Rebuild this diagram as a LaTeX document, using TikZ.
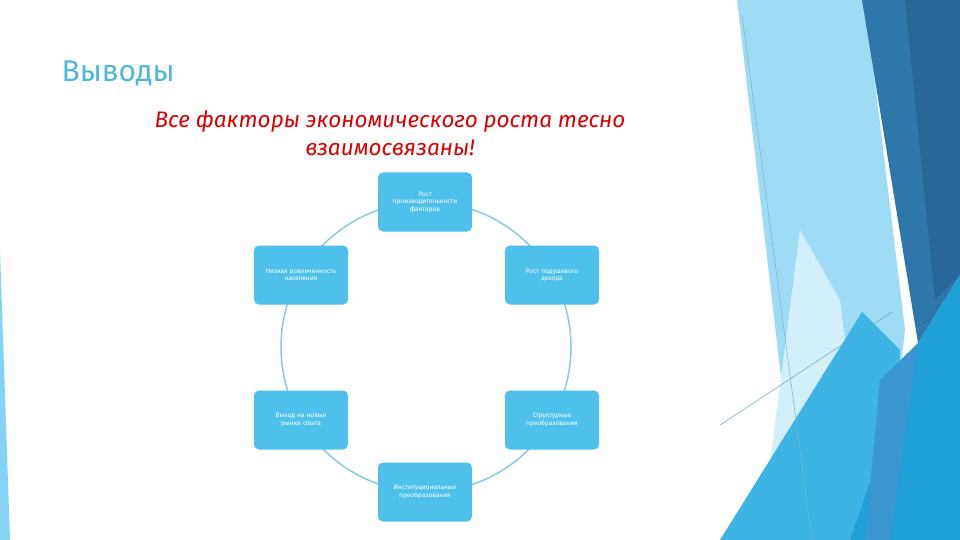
\documentclass[tikz,border=0pt]{standalone}
\usepackage{fontspec}
\setmainfont{Fira Sans}
\begin{document}
\begin{tikzpicture}[x=1pt,y=-1pt,
  box/.style={fill=boxc,rounded corners=5pt,minimum width=93pt,minimum height=59pt,align=center,text=white,font=\fontsize{6.5}{7.5}\selectfont,inner sep=2pt,text width=90pt}]
\definecolor{boxc}{HTML}{4FC0EC}
\definecolor{ring}{HTML}{8AC9E8}
\definecolor{titc}{HTML}{4FB8D8}
\definecolor{dkA}{HTML}{2E77AA}
\definecolor{dkB}{HTML}{27679A}
\definecolor{mdA}{HTML}{3DB4E4}
\definecolor{brA}{HTML}{1FA0D6}
\definecolor{mdB}{HTML}{3C96D2}
\useasboundingbox (0,0) rectangle (960,540);
\fill[white] (0,0) rectangle (960,540);
% left strip
\fill[boxc!70] (0,250) -- (10,540) -- (0,540) -- cycle;
% right decoration
\fill[boxc!55] (737,0) -- (865,0) -- (905,330) -- (880,540) -- (800,540) -- cycle;
\fill[boxc!25] (800,230) -- (840,300) -- (870,540) -- (760,540) -- cycle;
\fill[dkA] (862,0) -- (960,0) -- (960,275) -- (918,343) -- cycle;
\fill[dkB] (905,0) -- (960,0) -- (960,275) -- (935,300) -- cycle;
\fill[mdA] (720,540) -- (862,312) -- (900,350) -- (890,540) -- cycle;
\fill[brA] (918,343) -- (960,275) -- (960,540) -- (850,540) -- cycle;
\fill[mdB] (880,380) -- (918,343) -- (890,540) -- (865,540) -- cycle;
\draw[dkA!60,line width=0.5pt] (742,15) -- (812,540);
\draw[boxc!60!gray,line width=0.5pt] (720,425) -- (892,312);
% ring
\draw[ring,line width=1.5pt] (426,347) circle (145);
% title
\node[anchor=west,text=titc,font=\fontsize{30}{34}\selectfont] (title) at (58,73) {Выводы};
\node[align=center,text=red!85!black,font=\fontsize{22.5}{28}\selectfont\itshape] (sub) at (390,133) {Все факторы экономического роста тесно\\взаимосвязаны!};
% boxes
\node[box] (n1) at (425,202) {Рост\\производительности\\факторов};
\node[box] (n2) at (552,275) {Рост подушевого\\дохода};
\node[box] (n3) at (552,420) {Структурные\\преобразования};
\node[box] (n4) at (425,492) {Институциональные\\преобразования};
\node[box] (n5) at (301,420) {Выход на новые\\рынки сбыта};
\node[box] (n6) at (301,275) {Низкая вовлеченность\\населения};
\end{tikzpicture}
\end{document}
